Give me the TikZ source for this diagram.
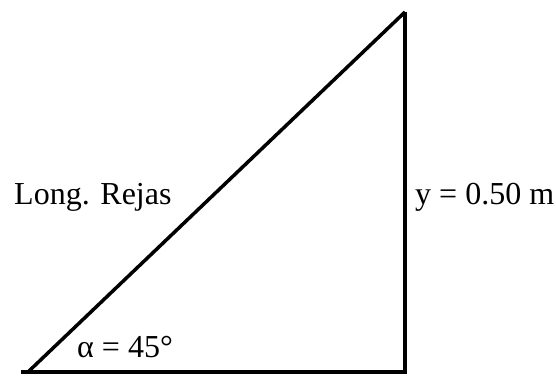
\documentclass[tikz,border=0pt]{standalone}
\usepackage{fontspec}
\setmainfont{Liberation Serif}
\usepackage{tikz}
\usetikzlibrary{positioning}

\begin{document}
\begin{tikzpicture}[
    % Define styles for the lines and labels
        x=1pt, y=1pt,
        edge/.style={draw, line width=3.5pt, line cap=butt, line join=miter},
        label/.style={anchor=base west, inner sep=0pt, font=\fontsize{32}{38}\selectfont}
    ]
        \useasboundingbox (0,0) rectangle (556,375);

        % Define the corners
        \coordinate (base start) at (21,3);
        \coordinate (foot) at (28,3);
        \coordinate (corner) at (405,3);
        \coordinate (top) at (405,363);

        % Draw the triangle
        \draw[edge] (foot) -- (top);
        \draw[edge] (top) -- (corner);
        \draw[edge] (base start) -- ([xshift=1.75pt]corner);

        % Labels
        \node[label] (rejas) at (14,170) {Long. Rejas};
        \node[label] (height) at (415,170) {y = 0.50 m};
        \node[label] (angle) at (77,18) {α = 45°};
    \end{tikzpicture}
\end{document}
